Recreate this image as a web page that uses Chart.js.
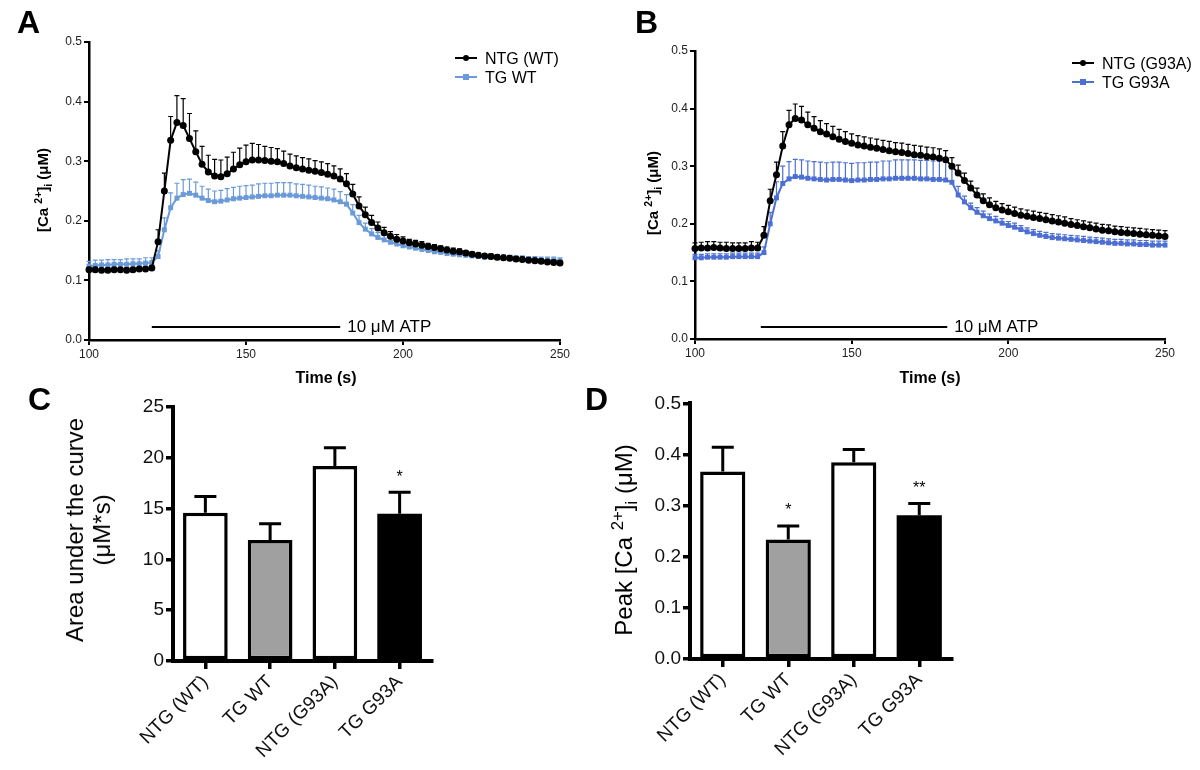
<!DOCTYPE html>
<html>
<head>
<meta charset="utf-8">
<script src="https://cdn.jsdelivr.net/npm/chart.js@4.4.1/dist/chart.umd.min.js"></script>
<style>
  body { margin: 0; background: #fff; width: 1200px; height: 770px; position: relative; overflow: hidden;
         font-family: "Liberation Sans", Arial, sans-serif; color: #000; }
  .panel { position: absolute; }
  .letter { position: absolute; font-weight: bold; font-size: 32px; line-height: 32px; }
  .xt { position: absolute; font-weight: bold; font-size: 16px; transform: translate(-50%, -50%); white-space: nowrap; }
  .yt { position: absolute; transform: translate(-50%, -50%) rotate(-90deg); white-space: nowrap; text-align: center; }
  .yt.small { font-weight: bold; font-size: 15px; }
  .yt.big { font-size: 24px; line-height: 27px; }
  .yt sup, .yt sub { font-size: 70%; line-height: 0; }
  .leg { position: absolute; font-size: 16px; line-height: 19px; white-space: nowrap; }
  .sw { display: inline-block; position: relative; width: 22px; height: 19px; vertical-align: top; margin-right: 8px; }
  .sw::before { content: ''; position: absolute; left: 0; right: 0; top: 8px; height: 2px; background: currentColor; }
  .sw i { position: absolute; left: 8px; top: 6px; width: 6px; height: 6px; background: currentColor; }
  .sw i.c { border-radius: 50%; }
</style>
</head>
<body>

<div class="panel" style="left:0;top:0;width:600px;height:390px"><canvas id="chartA"></canvas></div>
<div class="panel" style="left:600px;top:0;width:600px;height:390px"><canvas id="chartB"></canvas></div>
<div class="panel" style="left:0;top:390px;width:600px;height:380px"><canvas id="chartC"></canvas></div>
<div class="panel" style="left:600px;top:390px;width:600px;height:380px"><canvas id="chartD"></canvas></div>

<div class="letter" style="left:17px;top:6px">A</div>
<div class="letter" style="left:635px;top:6px">B</div>
<div class="letter" style="left:28px;top:383px">C</div>
<div class="letter" style="left:585px;top:383px">D</div>

<div class="xt" style="left:326px;top:378px">Time (s)</div>
<div class="xt" style="left:930px;top:378px">Time (s)</div>

<div class="yt small" style="left:42px;top:190px">[Ca <sup>2+</sup>]<sub>i</sub> (&mu;M)</div>
<div class="yt small" style="left:652px;top:193px">[Ca <sup>2+</sup>]<sub>i</sub> (&mu;M)</div>
<div class="yt big" style="left:88px;top:530px">Area under the curve<br>(&mu;M*s)</div>
<div class="yt big" style="left:623px;top:540px">Peak [Ca <sup>2+</sup>]<sub>i</sub> (&mu;M)</div>

<div class="leg" style="left:455px;top:49px">
  <div style="color:#000"><span class="sw"><i class="c"></i></span>NTG (WT)</div>
  <div style="color:#6a9ad8"><span class="sw"><i></i></span><span style="color:#000">TG WT</span></div>
</div>
<div class="leg" style="left:1072px;top:54px">
  <div style="color:#000"><span class="sw"><i class="c"></i></span>NTG (G93A)</div>
  <div style="color:#4d6fd4"><span class="sw"><i></i></span><span style="color:#000">TG G93A</span></div>
</div>

<script>
// time points (s)
const times = [
  100,102,104,106,108,110,112,114,116,118,
  120,122,124,126,128,130,132,134,136,138,
  140,142,144,146,148,150,152,154,156,158,
  160,162,164,166,168,170,172,174,176,178,
  180,182,184,186,188,190,192,194,196,198,
  200,202,204,206,208,210,212,214,216,218,
  220,222,224,226,228,230,232,234,236,238,
  240,242,244,246,248,250
];

// panel A
const ntgWtMean = [
  0.118,0.118,0.117,0.117,0.118,0.118,0.117,0.118,0.119,0.119,
  0.121,0.165,0.250,0.335,0.365,0.360,0.338,0.316,0.295,0.282,
  0.275,0.274,0.279,0.287,0.294,0.299,0.302,0.302,0.301,0.300,
  0.299,0.296,0.292,0.289,0.287,0.285,0.283,0.281,0.278,0.275,
  0.270,0.262,0.245,0.225,0.210,0.197,0.188,0.180,0.174,0.169,
  0.166,0.163,0.161,0.159,0.157,0.155,0.153,0.151,0.149,0.148,
  0.146,0.144,0.142,0.141,0.140,0.139,0.138,0.137,0.136,0.135,
  0.134,0.133,0.132,0.131,0.130,0.129
];
const ntgWtErr = [
  0.004,0.004,0.003,0.004,0.004,0.003,0.004,0.004,0.003,0.004,
  0.004,0.020,0.030,0.040,0.045,0.045,0.042,0.035,0.030,0.028,
  0.028,0.028,0.028,0.028,0.028,0.028,0.028,0.026,0.024,0.023,
  0.022,0.021,0.020,0.020,0.019,0.019,0.018,0.018,0.018,0.017,
  0.017,0.017,0.016,0.015,0.013,0.012,0.010,0.009,0.008,0.008,
  0.007,0.006,0.006,0.006,0.005,0.005,0.005,0.005,0.005,0.005,
  0.004,0.004,0.004,0.004,0.004,0.004,0.004,0.004,0.004,0.004,
  0.004,0.004,0.004,0.004,0.004,0.004
];
const tgWtMean = [
  0.124,0.125,0.126,0.126,0.127,0.127,0.127,0.128,0.128,0.129,
  0.130,0.140,0.185,0.222,0.238,0.244,0.246,0.243,0.238,0.234,
  0.232,0.233,0.235,0.237,0.238,0.239,0.240,0.241,0.242,0.242,
  0.243,0.243,0.243,0.242,0.241,0.240,0.239,0.238,0.237,0.235,
  0.232,0.228,0.213,0.197,0.186,0.178,0.172,0.168,0.164,0.161,
  0.158,0.156,0.154,0.152,0.150,0.148,0.147,0.145,0.144,0.143,
  0.142,0.141,0.140,0.139,0.139,0.138,0.137,0.137,0.136,0.136,
  0.135,0.135,0.134,0.134,0.134,0.133
];
const tgWtErr = [
  0.008,0.009,0.008,0.009,0.008,0.008,0.009,0.008,0.008,0.009,
  0.008,0.010,0.020,0.025,0.025,0.025,0.024,0.022,0.020,0.019,
  0.018,0.018,0.019,0.019,0.020,0.020,0.020,0.021,0.021,0.021,
  0.021,0.021,0.021,0.020,0.020,0.020,0.019,0.019,0.018,0.018,
  0.017,0.016,0.014,0.012,0.010,0.009,0.008,0.008,0.007,0.007,
  0.006,0.006,0.006,0.006,0.005,0.005,0.005,0.005,0.005,0.005,
  0.005,0.005,0.005,0.005,0.005,0.005,0.005,0.005,0.005,0.005,
  0.005,0.005,0.005,0.005,0.005,0.005
];

// panel B
const ntgG93aMean = [
  0.157,0.158,0.158,0.159,0.158,0.157,0.157,0.157,0.157,0.158,
  0.158,0.180,0.240,0.285,0.335,0.372,0.383,0.380,0.372,0.366,
  0.360,0.356,0.351,0.347,0.343,0.340,0.337,0.335,0.333,0.331,
  0.329,0.327,0.325,0.324,0.322,0.320,0.319,0.317,0.316,0.314,
  0.311,0.300,0.288,0.275,0.262,0.250,0.240,0.233,0.228,0.224,
  0.221,0.218,0.215,0.213,0.211,0.209,0.207,0.205,0.203,0.201,
  0.199,0.197,0.195,0.193,0.191,0.189,0.188,0.186,0.185,0.184,
  0.183,0.182,0.181,0.180,0.179,0.178
];
const ntgG93aErr = [
  0.010,0.010,0.011,0.010,0.010,0.011,0.010,0.010,0.010,0.011,
  0.010,0.015,0.020,0.022,0.025,0.025,0.025,0.024,0.022,0.020,
  0.019,0.018,0.018,0.017,0.017,0.016,0.016,0.016,0.016,0.016,
  0.016,0.016,0.016,0.016,0.016,0.016,0.016,0.016,0.016,0.016,
  0.016,0.015,0.014,0.013,0.012,0.012,0.012,0.012,0.011,0.011,
  0.011,0.011,0.011,0.011,0.011,0.011,0.011,0.011,0.011,0.011,
  0.010,0.010,0.010,0.010,0.010,0.010,0.010,0.010,0.010,0.010,
  0.010,0.010,0.010,0.010,0.010,0.010
];
const tgG93aMean = [
  0.141,0.141,0.142,0.142,0.142,0.142,0.143,0.143,0.143,0.143,
  0.143,0.150,0.200,0.245,0.270,0.278,0.282,0.281,0.279,0.278,
  0.277,0.276,0.277,0.277,0.276,0.275,0.276,0.276,0.277,0.277,
  0.278,0.278,0.279,0.279,0.279,0.279,0.278,0.278,0.277,0.277,
  0.276,0.272,0.250,0.238,0.228,0.220,0.214,0.209,0.205,0.201,
  0.197,0.194,0.190,0.186,0.183,0.180,0.178,0.176,0.175,0.174,
  0.173,0.172,0.171,0.170,0.169,0.168,0.167,0.166,0.166,0.165,
  0.165,0.164,0.164,0.163,0.163,0.163
];
const tgG93aErr = [
  0.006,0.006,0.006,0.006,0.006,0.006,0.006,0.006,0.006,0.006,
  0.006,0.010,0.020,0.028,0.030,0.030,0.030,0.030,0.030,0.030,
  0.030,0.030,0.030,0.030,0.030,0.030,0.030,0.030,0.030,0.030,
  0.031,0.031,0.032,0.032,0.032,0.032,0.032,0.032,0.032,0.032,
  0.032,0.030,0.015,0.010,0.008,0.008,0.008,0.008,0.008,0.008,
  0.007,0.007,0.007,0.007,0.007,0.007,0.007,0.007,0.007,0.007,
  0.007,0.007,0.007,0.007,0.007,0.007,0.007,0.007,0.007,0.007,
  0.007,0.007,0.007,0.007,0.007,0.007
];

// panels C and D
const groups = ['NTG (WT)', 'TG WT', 'NTG (G93A)', 'TG G93A'];
const aucMean = [14.6, 11.9, 19.2, 14.5];
const aucErr = [1.6, 1.6, 1.8, 2.1];
const aucStars = ['', '', '', '*'];
const peakMean = [0.367, 0.234, 0.385, 0.281];
const peakErr = [0.047, 0.026, 0.025, 0.023];
const peakStars = ['', '*', '', '**'];

const barFills = ['#ffffff', '#a0a0a0', '#ffffff', '#000000'];

Chart.defaults.font.family = "'Liberation Sans', Arial, sans-serif";
Chart.defaults.color = '#111';

// error bars (upward only, like the original), drawn right after each dataset
const errorBars = {
  id: 'errorBars',
  afterDatasetDraw(chart, args) {
    const ds = chart.data.datasets[args.index];
    if (!ds.errors) return;
    const meta = args.meta;
    const yScale = chart.scales[meta.yAxisID];
    const ctx = chart.ctx;
    ctx.save();
    ctx.strokeStyle = ds.errColor || ds.borderColor;
    ctx.lineWidth = ds.errWidth || 1.2;
    meta.data.forEach((el, j) => {
      const v = ds.data[j];
      const val = typeof v === 'object' ? v.y : v;
      const top = yScale.getPixelForValue(val + ds.errors[j]);
      ctx.beginPath();
      ctx.moveTo(el.x, el.y);
      ctx.lineTo(el.x, top);
      ctx.moveTo(el.x - ds.capHalf, top);
      ctx.lineTo(el.x + ds.capHalf, top);
      ctx.stroke();
      if (ds.stars && ds.stars[j]) {
        ctx.fillStyle = '#000';
        ctx.font = "16px 'Liberation Sans', Arial, sans-serif";
        ctx.textAlign = 'center';
        ctx.textBaseline = 'middle';
        ctx.fillText(ds.stars[j], el.x, top - 15);
      }
    });
    ctx.restore();
  }
};

// ATP application bar
const atpBar = {
  id: 'atpBar',
  afterDraw(chart, args, opts) {
    if (!opts.label) return;
    const xs = chart.scales.x, ys = chart.scales.y, ctx = chart.ctx;
    const y = ys.getPixelForValue(opts.y);
    const x0 = xs.getPixelForValue(opts.x0), x1 = xs.getPixelForValue(opts.x1);
    ctx.save();
    ctx.strokeStyle = '#000';
    ctx.lineWidth = 2;
    ctx.beginPath();
    ctx.moveTo(x0, y);
    ctx.lineTo(x1, y);
    ctx.stroke();
    ctx.fillStyle = '#000';
    ctx.font = "17px 'Liberation Sans', Arial, sans-serif";
    ctx.textBaseline = 'middle';
    ctx.fillText(opts.label, x1 + 7, y);
    ctx.restore();
  }
};

function pts(ys) {
  return times.map((t, i) => ({ x: t, y: ys[i] }));
}

function traceChart(id, black, blackErr, blackLabel, blue, blueErr, blueLabel, blueColor, box) {
  return new Chart(document.getElementById(id), {
    type: 'line',
    data: {
      datasets: [{
        label: blackLabel,
        data: pts(black),
        errors: blackErr,
        capHalf: 2.5,
        borderColor: '#000',
        backgroundColor: '#000',
        borderWidth: 2,
        pointStyle: 'circle',
        pointRadius: 3.5,
        pointBorderWidth: 0,
        clip: false
      }, {
        label: blueLabel,
        data: pts(blue),
        errors: blueErr,
        capHalf: 2.5,
        borderColor: blueColor,
        backgroundColor: blueColor,
        borderWidth: 2,
        pointStyle: 'rect',
        pointRadius: 3.5,
        pointBorderWidth: 0,
        clip: false
      }]
    },
    options: {
      responsive: true,
      maintainAspectRatio: false,
      animation: false,
      events: [],
      layout: { padding: { left: 0, top: box.top, right: box.right, bottom: box.bottom } },
      scales: {
        x: {
          type: 'linear', min: 100, max: 250,
          afterFit: s => { s.height = 20; },
          ticks: { stepSize: 50, font: { size: 12 }, color: '#222', padding: 2 },
          grid: { drawOnChartArea: false, tickLength: 5, color: '#000', lineWidth: 2 },
          border: { color: '#000', width: 2.5 }
        },
        y: {
          min: 0, max: 0.5,
          afterFit: s => { s.width = box.left; },
          ticks: { stepSize: 0.1, font: { size: 12 }, color: '#222', padding: 2, callback: v => v.toFixed(1) },
          grid: { drawOnChartArea: false, tickLength: 5, color: '#000', lineWidth: 2 },
          border: { color: '#000', width: 2.5 }
        }
      },
      plugins: {
        legend: { display: false },
        tooltip: { enabled: false },
        atpBar: box.atp
      }
    },
    plugins: [errorBars, atpBar]
  });
}

function barChart(id, means, errs, stars, yMax, yStep, fmt, box) {
  return new Chart(document.getElementById(id), {
    type: 'bar',
    data: {
      labels: groups,
      datasets: [{
        data: means,
        errors: errs,
        stars: stars,
        capHalf: 11,
        errColor: '#000',
        errWidth: 3,
        backgroundColor: barFills,
        borderColor: '#000',
        borderWidth: [3.5, 3.5, 3.5, 0],
        borderSkipped: false,
        barPercentage: 0.69,
        categoryPercentage: 1
      }]
    },
    options: {
      responsive: true,
      maintainAspectRatio: false,
      animation: false,
      events: [],
      layout: { padding: { left: 0, top: box.top, right: box.right, bottom: 0 } },
      scales: {
        x: {
          afterFit: s => { s.height = box.bottom; },
          ticks: { maxRotation: 45, minRotation: 45, font: { size: 19 }, color: '#111', padding: 2 },
          grid: { offset: false, drawOnChartArea: false, tickLength: 8, color: '#000', lineWidth: 3.5 },
          border: { color: '#000', width: 4 }
        },
        y: {
          min: 0, max: yMax,
          afterFit: s => { s.width = box.left; },
          ticks: { stepSize: yStep, font: { size: 19 }, color: '#111', padding: 2, callback: fmt },
          grid: { drawOnChartArea: false, tickLength: 7, color: '#000', lineWidth: 3.5 },
          border: { color: '#000', width: 4 }
        }
      },
      plugins: { legend: { display: false }, tooltip: { enabled: false } }
    },
    plugins: [errorBars]
  });
}

traceChart('chartA', ntgWtMean, ntgWtErr, 'NTG (WT)', tgWtMean, tgWtErr, 'TG WT', '#6a9ad8',
  { left: 89, top: 42, right: 40, bottom: 30, atp: { x0: 120, x1: 180, y: 0.022, label: '10 \u03bcM ATP' } });
traceChart('chartB', ntgG93aMean, ntgG93aErr, 'NTG (G93A)', tgG93aMean, tgG93aErr, 'TG G93A', '#4d6fd4',
  { left: 95, top: 51, right: 35, bottom: 31, atp: { x0: 121, x1: 180.5, y: 0.021, label: '10 \u03bcM ATP' } });

barChart('chartC', aucMean, aucErr, aucStars, 25, 5, v => v,
  { left: 173, top: 17, right: 168, bottom: 109 });
barChart('chartD', peakMean, peakErr, peakStars, 0.5, 0.1, v => v.toFixed(1),
  { left: 90, top: 12, right: 248, bottom: 111 });
</script>
</body>
</html>
